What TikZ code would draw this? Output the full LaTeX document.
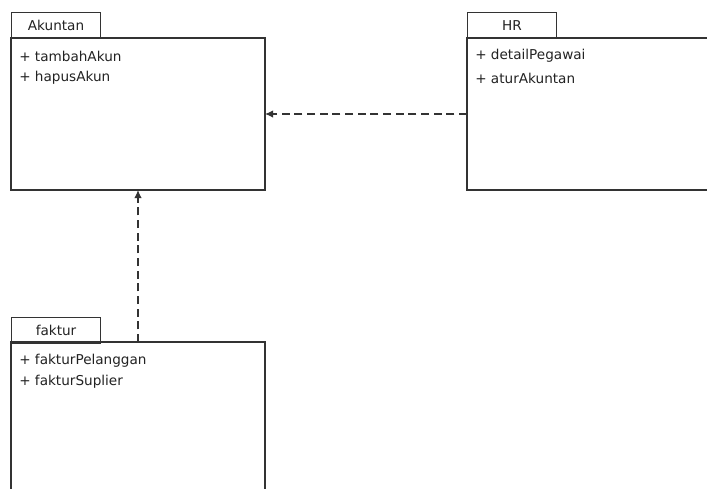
\documentclass[tikz,border=0pt]{standalone}
\usepackage{fontspec}
\setmainfont{DejaVu Sans}
\usetikzlibrary{arrows.meta}
\definecolor{umlline}{HTML}{333333}
\definecolor{umltext}{HTML}{222222}
\begin{document}
\begin{tikzpicture}[x=0.75pt,y=-0.75pt,
  tabbox/.style={draw=umlline, line width=0.8pt, anchor=north west, inner sep=0pt,
    minimum width=89*0.75pt, minimum height=26*0.75pt, font=\fontsize{10.2pt}{11pt}\selectfont, text=umltext},
  member/.style={anchor=west, inner sep=0pt, font=\fontsize{10.2pt}{11pt}\selectfont, text=umltext},
  bodyline/.style={draw=umlline, line width=0.8pt},
  depends/.style={draw=umlline, line width=0.8pt, dash pattern=on 6pt off 3.5pt,
    -{Latex[length=6pt,width=5.5pt]}}]
\useasboundingbox (0,0) rectangle (707,489);
\clip (0,0) rectangle (707,489);

% package Akuntan
\node[tabbox] (akTab) at (11,12) {Akuntan};
\draw[bodyline] (11,38) rectangle (265,190);
\coordinate (akRight) at (265,114);
\coordinate (akBottom) at (138,190);
\node[member] (ak1) at (19,56) {+ tambahAkun};
\node[member] (ak2) at (19,78) {+ hapusAkun};

% package HR (runs past the right edge)
\node[tabbox] (hrTab) at (467,12) {HR};
\draw[bodyline] (720,38) -- (467,38) -- (467,190) -- (720,190);
\coordinate (hrLeft) at (467,114);
\node[member] (hr1) at (475,56) {+ detailPegawai};
\node[member] (hr2) at (475,78) {+ aturAkuntan};

% package faktur (runs past the bottom edge)
\node[tabbox] (fkTab) at (11,317) {faktur};
\draw[bodyline] (11,500) -- (11,342) -- (265,342) -- (265,500);
\coordinate (fkTop) at (138,342);
\node[member] (fk1) at (19,361) {+ fakturPelanggan};
\node[member] (fk2) at (19,382) {+ fakturSuplier};

% dependencies
\draw[depends] (hrLeft) -- (akRight);
\draw[depends] (fkTop) -- (akBottom);
\end{tikzpicture}
\end{document}
